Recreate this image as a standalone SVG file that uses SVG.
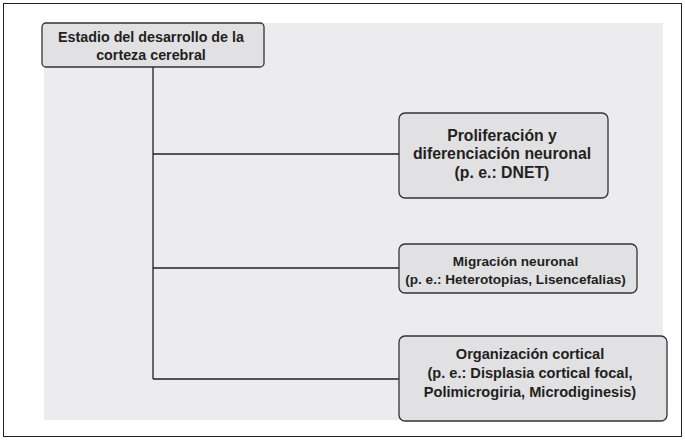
<svg xmlns="http://www.w3.org/2000/svg" width="685" height="446" viewBox="0 0 685 446">
<style>
.node rect{fill:#e1e1e3;stroke:#333;stroke-width:1.3}
text{font-family:"Liberation Sans",Arial,sans-serif;font-weight:bold;fill:#231f20;text-anchor:middle}
.conn{stroke:#231f20;stroke-width:1.3;fill:none}
</style>
<rect x="3.5" y="3.5" width="678" height="433" fill="#fff" stroke="#231f20" stroke-width="1"/>
<rect x="44" y="23" width="619" height="397" fill="#ececee"/>
<g id="connectors">
<path class="conn" d="M153 67V379M153 154H399M153 268H399M153 379H399"/>
</g>
<g id="n0" class="node">
<rect x="42" y="23" width="222" height="44" rx="4"/>
<text font-size="14.3"><tspan x="151" y="42">Estadio del desarrollo de la</tspan><tspan x="151" y="59.5">corteza cerebral</tspan></text>
</g>
<g id="n1" class="node">
<rect x="399" y="113" width="209" height="85" rx="6"/>
<text font-size="15.8"><tspan x="502" y="140.7">Proliferación y</tspan><tspan x="502" y="159.3">diferenciación neuronal</tspan><tspan x="502" y="177.7">(p. e.: DNET)</tspan></text>
</g>
<g id="n2" class="node">
<rect x="399" y="244" width="238" height="49" rx="6"/>
<text font-size="13.6"><tspan x="515.5" y="266">Migración neuronal</tspan><tspan x="515.5" y="284.3">(p. e.: Heterotopias, Lisencefalias)</tspan></text>
</g>
<g id="n3" class="node">
<rect x="399" y="336" width="268" height="85" rx="6"/>
<text font-size="14.6"><tspan x="530" y="359.3">Organización cortical</tspan><tspan x="530" y="378.3">(p. e.: Displasia cortical focal,</tspan><tspan x="530" y="396.7">Polimicrogiria, Microdiginesis)</tspan></text>
</g>
</svg>
